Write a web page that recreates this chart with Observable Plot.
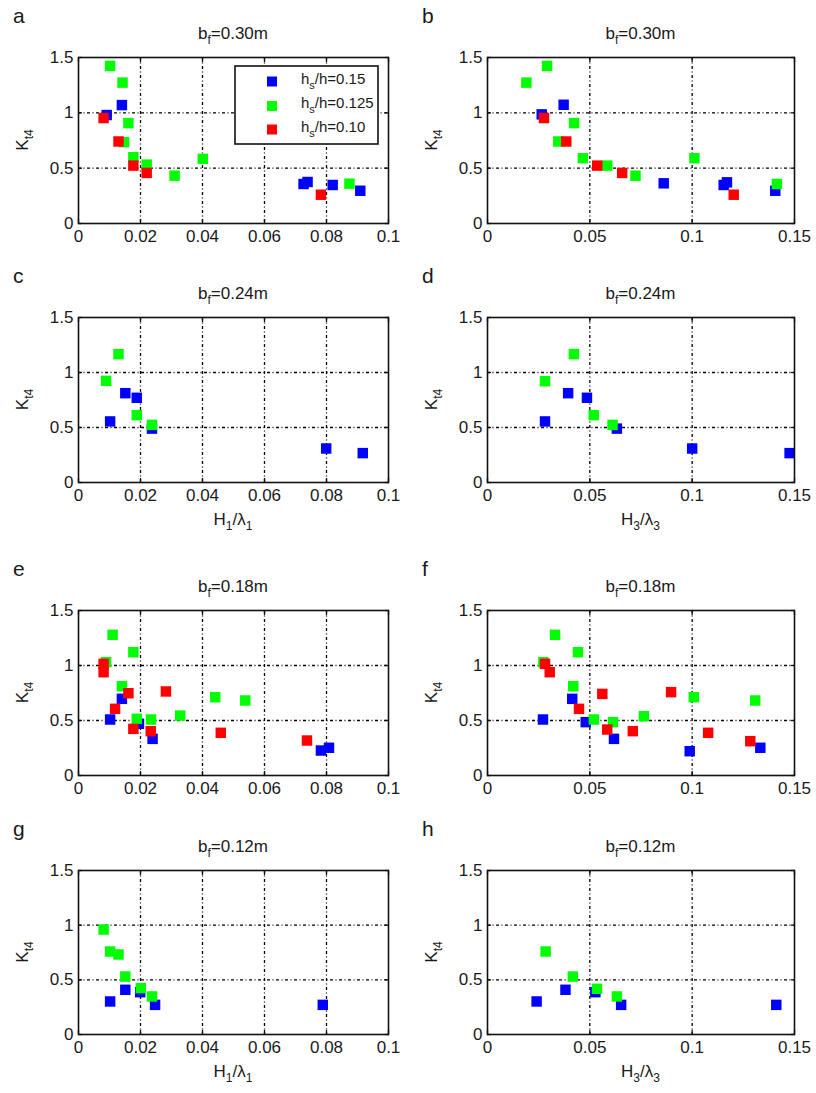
<!DOCTYPE html>
<html>
<head>
<meta charset="utf-8">
<script src="https://cdn.jsdelivr.net/npm/d3@7"></script>
<script src="https://cdn.jsdelivr.net/npm/@observablehq/plot@0.6"></script>
<style>
  html, body { margin: 0; padding: 0; background: #fff; }
  #root { position: relative; width: 816px; height: 1093px; overflow: hidden;
          font-family: "Liberation Sans", Arial, Helvetica, sans-serif; color: #1a1a1a; }
  .panel { position: absolute; }
  .panel svg { display: block; }
  #overlay { position: absolute; left: 0; top: 0; pointer-events: none; }
</style>
</head>
<body>
<div id="root"></div>
<script>
// ---------- tick values and labels ----------
const xTicksH1 = [0, 0.02, 0.04, 0.06, 0.08, 0.1];
const xTickLabelsH1 = ["0", "0.02", "0.04", "0.06", "0.08", "0.1"];
const xTicksH3 = [0, 0.05, 0.1, 0.15];
const xTickLabelsH3 = ["0", "0.05", "0.1", "0.15"];
const yTicks = [0, 0.5, 1, 1.5];
const yTickLabels = ["0", "0.5", "1", "1.5"];

// ---------- series ----------
const seriesKeys = ["0.15", "0.125", "0.10"];
const seriesColors = ["#0000ff", "#00ff00", "#ff0000"];

// ---------- panel texts ----------
const panelLetters = ["a", "b", "c", "d", "e", "f", "g", "h"];
const panelBf = ["0.30", "0.30", "0.24", "0.24", "0.18", "0.18", "0.12", "0.12"];

// ---------- data: [x, K_t4] ----------
const a_blue  = [[0.0091,0.980],[0.0140,1.070],[0.0726,0.357],[0.0739,0.375],[0.0820,0.348],[0.0909,0.296]];
const a_green = [[0.0102,1.424],[0.0142,1.273],[0.0161,0.907],[0.0147,0.735],[0.0177,0.599],[0.0220,0.532],[0.0310,0.432],[0.0401,0.584],[0.0874,0.360]];
const a_red   = [[0.0081,0.953],[0.0129,0.741],[0.0177,0.523],[0.0220,0.457],[0.0782,0.260]];

const b_blue  = [[0.0265,0.986],[0.0372,1.073],[0.0861,0.363],[0.1154,0.348],[0.1170,0.372],[0.1406,0.296]];
const b_green = [[0.0190,1.273],[0.0291,1.424],[0.0423,0.907],[0.0346,0.741],[0.0466,0.590],[0.0585,0.523],[0.0723,0.432],[0.1011,0.590],[0.1414,0.357]];
const b_red   = [[0.0276,0.953],[0.0385,0.741],[0.0536,0.523],[0.0658,0.457],[0.1203,0.260]];

const c_blue  = [[0.0102,0.555],[0.0151,0.812],[0.0188,0.770],[0.0237,0.490],[0.0799,0.309],[0.0917,0.267]];
const c_green = [[0.0089,0.924],[0.0129,1.167],[0.0188,0.612],[0.0237,0.524]];
const c_red   = [];

const d_blue  = [[0.0281,0.555],[0.0394,0.812],[0.0486,0.770],[0.0632,0.490],[0.1000,0.309],[0.1476,0.267]];
const d_green = [[0.0281,0.921],[0.0422,1.167],[0.0519,0.612],[0.0611,0.524]];
const d_red   = [];

const e_blue  = [[0.0102,0.509],[0.0140,0.697],[0.0195,0.470],[0.0239,0.333],[0.0782,0.227],[0.0808,0.252]];
const e_green = [[0.0089,1.030],[0.0110,1.279],[0.0177,1.121],[0.0140,0.812],[0.0188,0.515],[0.0234,0.509],[0.0328,0.545],[0.0441,0.712],[0.0538,0.682]];
const e_red   = [[0.0081,1.015],[0.0081,0.939],[0.0118,0.606],[0.0161,0.748],[0.0177,0.424],[0.0233,0.403],[0.0282,0.764],[0.0459,0.388],[0.0737,0.318]];

const f_blue  = [[0.0271,0.509],[0.0414,0.697],[0.0480,0.485],[0.0618,0.333],[0.0988,0.221],[0.1333,0.252]];
const f_green = [[0.0273,1.030],[0.0330,1.279],[0.0442,1.121],[0.0419,0.812],[0.0520,0.509],[0.0613,0.485],[0.0764,0.539],[0.1008,0.712],[0.1308,0.682]];
const f_red   = [[0.0281,1.015],[0.0304,0.939],[0.0447,0.606],[0.0561,0.742],[0.0585,0.418],[0.0710,0.403],[0.0897,0.758],[0.1078,0.388],[0.1284,0.312]];

const g_blue  = [[0.0102,0.302],[0.0151,0.409],[0.0199,0.387],[0.0247,0.271],[0.0788,0.271]];
const g_green = [[0.0081,0.960],[0.0102,0.759],[0.0129,0.732],[0.0151,0.530],[0.0201,0.424],[0.0237,0.348]];
const g_red   = [];

const h_blue  = [[0.0240,0.302],[0.0381,0.409],[0.0527,0.387],[0.0653,0.271],[0.1411,0.271]];
const h_green = [[0.0284,0.759],[0.0417,0.530],[0.0535,0.418],[0.0632,0.348]];
const h_red   = [];

const panelSeries = [
  [a_blue, a_green, a_red], [b_blue, b_green, b_red],
  [c_blue, c_green, c_red], [d_blue, d_green, d_red],
  [e_blue, e_green, e_red], [f_blue, f_green, f_red],
  [g_blue, g_green, g_red], [h_blue, h_green, h_red]
];

// ---------- layout ----------
const colLeft = [78, 487];
const colWidth = [310, 307];
const rowTop = [57, 317, 610, 870];
const rowHeight = [166, 165, 165, 164];
const ML = 78, MR = 12, MT = 10, MB = 34;
const FONT = '"Liberation Sans", Arial, Helvetica, sans-serif';
const INK = "#1a1a1a";

const root = document.getElementById("root");

panelSeries.forEach((series, p) => {
  const col = p % 2, row = Math.floor(p / 2);
  const isH3 = col === 1;
  const xTicks = isH3 ? xTicksH3 : xTicksH1;
  const xLabels = isH3 ? xTickLabelsH3 : xTickLabelsH1;
  const rows = [];
  series.forEach((pts, s) => pts.forEach(([x, y]) => rows.push({x, y, s: seriesKeys[s]})));

  const chart = Plot.plot({
    width: ML + colWidth[col] + MR,
    height: MT + rowHeight[row] + MB,
    marginLeft: ML, marginRight: MR, marginTop: MT, marginBottom: MB,
    style: {fontFamily: FONT, background: "transparent", overflow: "visible"},
    x: {domain: [xTicks[0], xTicks[xTicks.length - 1]], axis: null},
    y: {domain: [yTicks[0], yTicks[yTicks.length - 1]], axis: null},
    color: {domain: seriesKeys, range: seriesColors},
    marks: [
      Plot.gridX(xTicks.slice(1, -1), {stroke: "#000", strokeOpacity: 1, strokeWidth: 1.3, strokeDasharray: "3,2.5,1,2.5"}),
      Plot.gridY(yTicks.slice(1, -1), {stroke: "#000", strokeOpacity: 1, strokeWidth: 1.3, strokeDasharray: "3,2.5,1,2.5"}),
      Plot.axisX(xTicks, {anchor: "bottom", tickSize: -4, fill: "none", stroke: "#111", strokeWidth: 1.3}),
      Plot.axisX(xTicks, {anchor: "top", tickSize: -4, fill: "none", stroke: "#111", strokeWidth: 1.3, label: null}),
      Plot.axisY(yTicks, {anchor: "left", tickSize: -4, fill: "none", stroke: "#111", strokeWidth: 1.3, label: null}),
      Plot.axisY(yTicks, {anchor: "right", tickSize: -4, fill: "none", stroke: "#111", strokeWidth: 1.3, label: null}),
      Plot.axisX(xTicks, {anchor: "bottom", tickSize: 0, tickPadding: 6, stroke: "none", fill: INK, fontSize: 17,
        tickFormat: d => xLabels[xTicks.indexOf(d)], label: null}),
      Plot.axisY(yTicks, {anchor: "left", tickSize: 0, tickPadding: 5, stroke: "none", fill: INK, fontSize: 17,
        tickFormat: d => yTickLabels[yTicks.indexOf(d)], label: null}),
      Plot.dot(rows, {x: "x", y: "y", fill: "s", symbol: "square", r: 5.9, stroke: "none"}),
      Plot.frame({stroke: "#111", strokeWidth: 1.6})
    ]
  });
  const div = document.createElement("div");
  div.className = "panel";
  div.style.left = (colLeft[col] - ML) + "px";
  div.style.top = (rowTop[row] - MT) + "px";
  div.appendChild(chart);
  root.appendChild(div);
});

// ---------- overlay texts (letters, titles, axis labels, legend) ----------
const svg = d3.select(root).append("svg")
  .attr("id", "overlay").attr("width", 816).attr("height", 1093)
  .attr("font-family", FONT).attr("fill", INK);

panelLetters.forEach((L, p) => {
  const col = p % 2, row = Math.floor(p / 2);
  const fl = colLeft[col], fw = colWidth[col], ft = rowTop[row], fh = rowHeight[row];
  const cx = fl + fw / 2;
  // panel letter
  svg.append("text").attr("x", fl - 65).attr("y", ft - 34).attr("font-size", 21).text(L);
  // title b_f=...
  const t = svg.append("text").attr("x", cx).attr("y", ft - 18).attr("text-anchor", "middle").attr("font-size", 17);
  t.append("tspan").text("b");
  t.append("tspan").attr("dy", 5).attr("font-size", 12).text("f");
  t.append("tspan").attr("dy", -5).text("=" + panelBf[p] + "m");
  // y label K_t4
  const yl = svg.append("text")
    .attr("transform", `translate(${fl - 50},${ft + fh / 2}) rotate(-90)`)
    .attr("text-anchor", "middle").attr("font-size", 17);
  yl.append("tspan").text("K");
  yl.append("tspan").attr("dy", 5).attr("font-size", 12).text("t4");
  // x label under rows 2 and 4
  if (row === 1 || row === 3) {
    const n = col === 0 ? "1" : "3";
    const xl = svg.append("text").attr("x", cx).attr("y", ft + fh + 43)
      .attr("text-anchor", "middle").attr("font-size", 17);
    xl.append("tspan").text("H");
    xl.append("tspan").attr("dy", 5).attr("font-size", 12).text(n);
    xl.append("tspan").attr("dy", -5).text("/λ");
    xl.append("tspan").attr("dy", 5).attr("font-size", 12).text(n);
  }
});

// legend in panel a
const lg = svg.append("g");
lg.append("rect").attr("x", 235).attr("y", 66).attr("width", 143).attr("height", 78)
  .attr("fill", "#fff").attr("stroke", "#111").attr("stroke-width", 1.6);
const legendRowsY = [81.5, 106, 129.5];
seriesKeys.forEach((k, i) => {
  lg.append("rect").attr("x", 267).attr("y", legendRowsY[i] - 5).attr("width", 10).attr("height", 10)
    .attr("fill", seriesColors[i]);
  const tx = lg.append("text").attr("x", 301).attr("y", legendRowsY[i] + 2).attr("font-size", 15);
  tx.append("tspan").text("h");
  tx.append("tspan").attr("dy", 5).attr("font-size", 11).text("s");
  tx.append("tspan").attr("dy", -5).text("/h=" + k);
});
</script>
</body>
</html>
